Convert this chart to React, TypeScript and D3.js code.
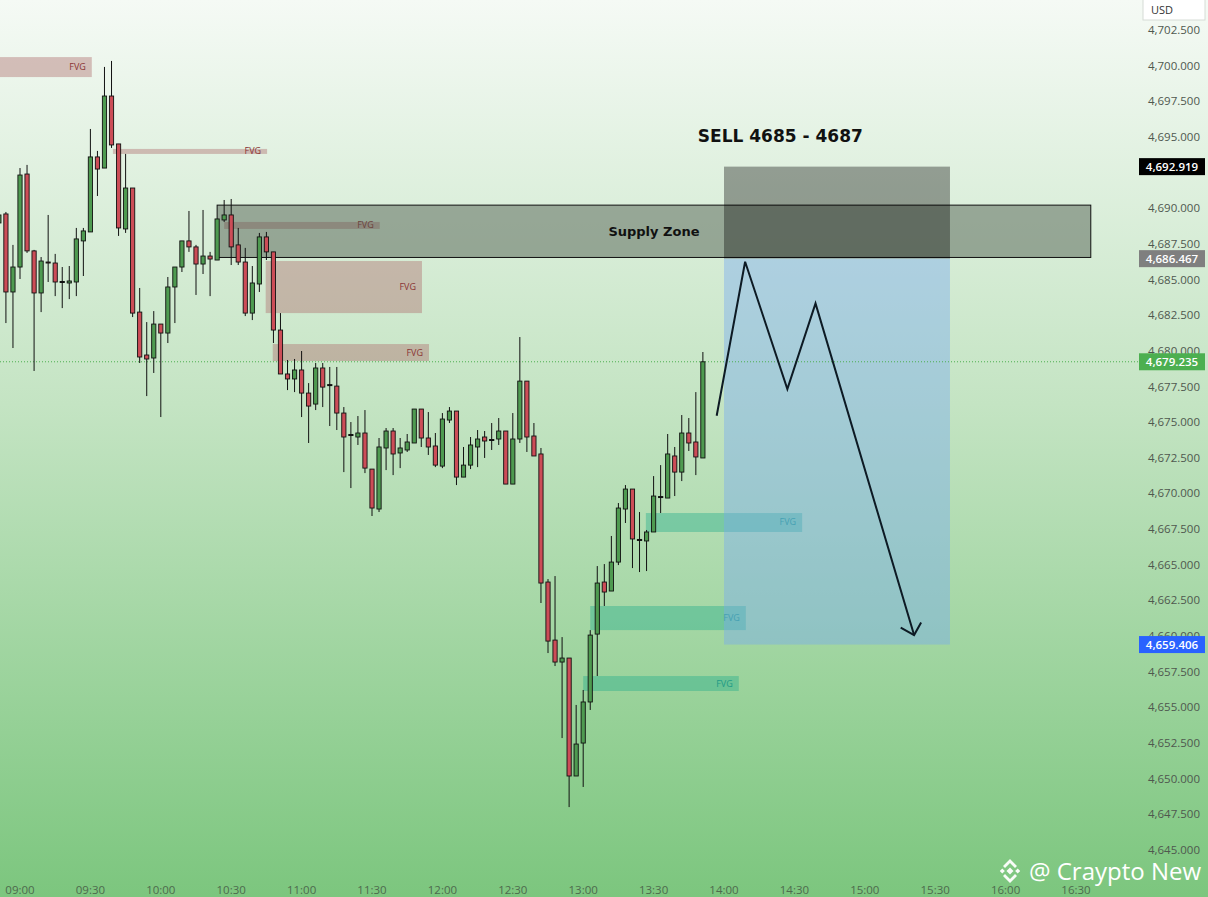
import React from 'react';
import * as d3 from 'd3';

const W = 1208;
const H = 897;

// ---- data ----
const sessionStart = new Date(2024, 0, 2, 9, 0);
const sessionEnd = new Date(2024, 0, 2, 16, 30);
const barMinutes = 3;
const firstBar = -3; // first visible bar index relative to 09:00

const candleOpen = [4688.97, 4689.6, 4684.13, 4685.88, 4692.4, 4687.01, 4684.06, 4686.23, 4686.16, 4684.83, 4684.76, 4684.83, 4687.71, 4688.34, 4693.6, 4692.82, 4697.87, 4694.51, 4688.55, 4691.42, 4682.72, 4679.71, 4679.5, 4681.88, 4681.25, 4684.48, 4685.88, 4687.71, 4687.29, 4686.09, 4686.65, 4686.37, 4689.18, 4689.53, 4687.43, 4686.23, 4682.65, 4684.69, 4687.99, 4686.94, 4681.46, 4678.38, 4678.03, 4678.66, 4677.04, 4676.27, 4678.8, 4677.6, 4677.53, 4675.64, 4674.1, 4673.96, 4674.24, 4671.71, 4668.91, 4673.19, 4674.38, 4672.84, 4673.05, 4673.54, 4675.92, 4673.89, 4673.33, 4671.92, 4675.15, 4675.78, 4671.15, 4671.99, 4673.26, 4673.96, 4673.75, 4673.82, 4674.38, 4670.66, 4673.82, 4677.88, 4674.03, 4672.77, 4663.79, 4659.72, 4658.18, 4658.46, 4650.19, 4652.5, 4655.38, 4660.14, 4663.79, 4663.16, 4665.19, 4668.91, 4670.31, 4666.74, 4666.67, 4667.3, 4669.75, 4669.68, 4672.63, 4671.5, 4674.24, 4673.61, 4672.49];
const candleHigh = [4689.88, 4689.74, 4687.43, 4692.82, 4693.04, 4687.08, 4686.58, 4689.53, 4686.8, 4685.88, 4685.95, 4688.62, 4688.62, 4695.56, 4694.02, 4699.91, 4700.33, 4694.51, 4693.81, 4691.42, 4684.41, 4682.02, 4682.79, 4681.88, 4685.18, 4685.88, 4687.71, 4689.81, 4687.43, 4689.88, 4686.94, 4689.25, 4690.58, 4690.65, 4688.62, 4687.22, 4685.95, 4688.27, 4688.34, 4686.94, 4682.65, 4679.36, 4679.43, 4679.99, 4677.74, 4679.15, 4679.15, 4678.87, 4678.87, 4676.06, 4675.01, 4675.43, 4675.85, 4671.71, 4673.89, 4674.59, 4674.59, 4673.89, 4674.17, 4675.92, 4675.92, 4675.71, 4674.24, 4675.64, 4676.06, 4675.78, 4673.26, 4673.96, 4674.45, 4674.38, 4674.94, 4675.29, 4674.38, 4675.64, 4680.97, 4677.88, 4674.94, 4673.19, 4664.0, 4664.21, 4659.93, 4658.46, 4655.17, 4656.22, 4660.42, 4664.91, 4665.05, 4667.02, 4669.33, 4670.59, 4670.31, 4668.7, 4667.44, 4671.22, 4671.99, 4674.17, 4673.26, 4675.5, 4675.29, 4677.11, 4679.92];
const candleLow = [4688.62, 4681.95, 4680.2, 4685.04, 4686.87, 4678.59, 4682.72, 4684.83, 4683.84, 4683.0, 4683.63, 4683.84, 4685.25, 4688.34, 4690.86, 4692.82, 4694.23, 4688.06, 4688.27, 4682.37, 4679.15, 4676.83, 4678.45, 4675.36, 4680.55, 4681.95, 4685.53, 4686.94, 4683.92, 4685.39, 4683.84, 4686.37, 4689.04, 4686.02, 4686.02, 4682.44, 4682.16, 4684.13, 4686.37, 4680.55, 4678.38, 4677.25, 4677.11, 4675.36, 4673.54, 4675.85, 4676.06, 4674.73, 4674.45, 4671.5, 4670.38, 4673.4, 4671.43, 4668.42, 4668.7, 4671.64, 4671.29, 4671.78, 4672.91, 4673.54, 4673.26, 4672.7, 4671.85, 4671.78, 4674.94, 4670.59, 4671.15, 4671.71, 4671.85, 4672.49, 4673.05, 4673.4, 4670.66, 4670.66, 4673.54, 4672.91, 4672.63, 4662.32, 4658.81, 4657.9, 4652.85, 4648.01, 4650.19, 4649.42, 4654.82, 4657.2, 4662.11, 4663.16, 4664.98, 4667.93, 4664.77, 4664.49, 4664.56, 4667.3, 4668.63, 4669.68, 4669.82, 4670.87, 4672.98, 4671.29, 4672.49];
const candleClose = [4689.53, 4684.13, 4685.88, 4692.33, 4687.01, 4684.06, 4686.3, 4686.16, 4684.83, 4684.8, 4684.9, 4687.85, 4688.41, 4693.6, 4692.75, 4697.87, 4694.44, 4688.62, 4691.42, 4682.65, 4679.57, 4679.43, 4681.88, 4681.25, 4684.48, 4685.88, 4687.71, 4687.29, 4686.09, 4686.65, 4686.44, 4689.25, 4689.53, 4687.29, 4686.23, 4682.65, 4684.76, 4687.99, 4686.94, 4681.46, 4678.38, 4678.03, 4678.66, 4677.04, 4676.13, 4678.8, 4677.46, 4677.56, 4675.64, 4673.96, 4674.06, 4674.24, 4671.78, 4668.98, 4673.26, 4674.38, 4672.77, 4673.19, 4673.61, 4675.92, 4673.89, 4673.26, 4671.99, 4675.22, 4675.78, 4671.15, 4671.99, 4673.4, 4673.82, 4673.68, 4673.72, 4674.38, 4670.66, 4673.82, 4677.88, 4673.96, 4672.63, 4663.72, 4659.65, 4658.18, 4658.46, 4650.19, 4652.43, 4655.38, 4660.07, 4663.72, 4663.09, 4665.19, 4668.98, 4670.31, 4666.81, 4666.7, 4667.3, 4669.82, 4669.72, 4672.77, 4671.5, 4674.24, 4673.54, 4672.56, 4679.235];

const timeTickLabels = ['09:00', '09:30', '10:00', '10:30', '11:00', '11:30', '12:00', '12:30', '13:00', '13:30', '14:00', '14:30', '15:00', '15:30', '16:00', '16:30'];
const priceTicks = d3.range(4645, 4702.5 + 0.001, 2.5);

// FVG zones
const fvgStart = [-4, 13.2, 29.0, 34.9, 35.9, 88.9, 81.0, 80.0];
const fvgEnd = [10.2, 35.1, 51.1, 57.1, 58.1, 111.1, 103.1, 102.1];
const fvgTop = [4700.6, 4694.16, 4689.04, 4686.3, 4680.48, 4668.63, 4662.11, 4657.2];
const fvgBottom = [4699.2, 4693.81, 4688.55, 4682.65, 4679.29, 4667.3, 4660.42, 4656.15];
const fvgKind = ['bear', 'bear', 'bear', 'bear', 'bear', 'bull', 'bull', 'bull'];

const supplyZone = { startBar: 28.0, endBar: 152.1, top: 4690.22, bottom: 4686.55 };
const shortPosition = { startBar: 100.0, endBar: 132.1, stop: 4692.919, entry: 4686.467, target: 4659.406 };
const lastPrice = 4679.235;

const pathBars = [98.96, 103.0, 109.0, 113.0, 127.0];
const pathPrices = [4675.45, 4686.25, 4677.32, 4683.33, 4660.07];
const arrowBars = [125.1, 127.0, 128.0];
const arrowPrices = [4660.59, 4660.07, 4660.96];

const sellText = { bar: 108, price: 4695.06, text: 'SELL 4685 - 4687' };

// ---- scales ----
const x = d3.scaleTime().domain([sessionStart, sessionEnd]).range([20, 1076]);
const y = d3.scaleLinear().domain([4645, 4702.5]).range([850, 30]);
const barTime = (b: number) => new Date(sessionStart.getTime() + b * barMinutes * 60000);
const bx = (b: number) => x(barTime(b));
const fmt = d3.format(',.3f');

const AXIS_FONT = '"Open Sans", "Noto Sans", sans-serif';

export default function App() {
  const candles = candleOpen.map((o, k) => ({
    bar: firstBar + k,
    o,
    h: candleHigh[k],
    l: candleLow[k],
    c: candleClose[k],
  }));
  const bodyW = 4.2;
  const line = d3.line<number>().x((_, i) => bx(pathBars[i])).y((p) => y(p));
  const arrowLine = d3.line<number>().x((_, i) => bx(arrowBars[i])).y((p) => y(p));

  const priceBadges = [
    { v: shortPosition.stop, bg: '#000000' },
    { v: shortPosition.entry, bg: '#7f7f7f' },
    { v: lastPrice, bg: '#4caf50' },
    { v: shortPosition.target, bg: '#2962ff' },
  ];
  const visibleTicks = priceTicks.filter((v) => priceBadges.every((b) => Math.abs(y(v) - y(b.v)) > 6));

  return (
    <div style={{ position: 'absolute', left: 0, top: 0, width: W, height: H, overflow: 'hidden' }}>
      <svg width={W} height={H} style={{ display: 'block' }}>
        <defs>
          <linearGradient id="bg" x1="0" y1="0" x2="0" y2="1">
            <stop offset="0" stopColor="#f5faf5" />
            <stop offset="0.45" stopColor="#c4e4c3" />
            <stop offset="1" stopColor="#7cc67e" />
          </linearGradient>
        </defs>
        <rect x={0} y={0} width={W} height={H} fill="url(#bg)" />

        {/* FVG zones */}
        {fvgStart.map((s, i) => {
          const x0 = bx(s);
          const x1 = bx(fvgEnd[i]);
          const y0 = y(fvgTop[i]);
          const y1 = y(fvgBottom[i]);
          const bull = fvgKind[i] === 'bull';
          return (
            <g key={'fvg' + i}>
              <rect x={x0} y={y0} width={x1 - x0} height={y1 - y0}
                fill={bull ? 'rgba(40,175,140,0.42)' : 'rgba(175,110,110,0.42)'} />
              <text x={x1 - 6} y={(y0 + y1) / 2 + 3} textAnchor="end" fontSize={9}
                fontFamily={AXIS_FONT} fill={bull ? '#1f9a86' : '#8a3434'}>FVG</text>
            </g>
          );
        })}

        {/* Supply zone */}
        <rect x={bx(supplyZone.startBar)} y={y(supplyZone.top)}
          width={bx(supplyZone.endBar) - bx(supplyZone.startBar)}
          height={y(supplyZone.bottom) - y(supplyZone.top)}
          fill="rgba(70,82,70,0.46)" stroke="#111" strokeWidth={1} />

        {/* Short position */}
        <rect x={bx(shortPosition.startBar)} y={y(shortPosition.stop)}
          width={bx(shortPosition.endBar) - bx(shortPosition.startBar)}
          height={y(shortPosition.entry) - y(shortPosition.stop)}
          fill="rgba(0,0,0,0.35)" />
        <rect x={bx(shortPosition.startBar)} y={y(shortPosition.entry)}
          width={bx(shortPosition.endBar) - bx(shortPosition.startBar)}
          height={y(shortPosition.target) - y(shortPosition.entry)}
          fill="rgba(120,170,240,0.42)" />

        <text x={(bx(supplyZone.startBar) + bx(supplyZone.endBar)) / 2}
          y={(y(supplyZone.top) + y(supplyZone.bottom)) / 2 + 5}
          textAnchor="middle" fontSize={13} fontWeight="bold"
          fontFamily='"DejaVu Sans", sans-serif' fill="#111">Supply Zone</text>

        {/* last price dotted line */}
        <line x1={0} x2={1140} y1={y(lastPrice)} y2={y(lastPrice)}
          stroke="#4caf50" strokeWidth={1} strokeDasharray="1 2" />

        {/* candles */}
        {candles.map((d) => {
          const cx = bx(d.bar);
          const up = d.c >= d.o;
          const top = y(Math.max(d.o, d.c));
          const bot = y(Math.min(d.o, d.c));
          const doji = Math.abs(d.o - d.c) < 0.06;
          return (
            <g key={'c' + d.bar}>
              <line x1={cx} x2={cx} y1={y(d.h)} y2={y(d.l)} stroke="#111" strokeWidth={1} />
              {doji ? (
                <rect x={cx - bodyW / 2 - 0.5} y={top - 1} width={bodyW + 1} height={2} fill="#111" />
              ) : (
                <rect x={cx - bodyW / 2} y={top} width={bodyW} height={Math.max(1, bot - top)}
                  fill={up ? '#4e9a50' : '#cc4d57'} stroke="#111" strokeWidth={0.9} />
              )}
            </g>
          );
        })}

        {/* price path */}
        <path d={line(pathPrices) || ''} fill="none" stroke="#0d1a24" strokeWidth={2} strokeLinejoin="miter" />
        <path d={arrowLine(arrowPrices) || ''} fill="none" stroke="#0d1a24" strokeWidth={2} />

        <text x={bx(sellText.bar)} y={y(sellText.price) + 6} textAnchor="middle"
          fontSize={17} fontWeight="bold" fontFamily='"DejaVu Sans", sans-serif' fill="#111">{sellText.text}</text>

        {/* price axis */}
        {visibleTicks.map((v) => (
          <text key={'p' + v} x={1200} y={y(v) + 4} textAnchor="end" fontSize={11.5}
            fontFamily={AXIS_FONT} fill="#4f584f">{fmt(v)}</text>
        ))}
        {priceBadges.map((b) => (
          <g key={'b' + b.v}>
            <rect x={1139} y={y(b.v) - 8.5} width={66} height={17} fill={b.bg} />
            <text x={1172} y={y(b.v) + 4} textAnchor="middle" fontSize={11.5} fontWeight={600}
              fontFamily={AXIS_FONT} fill="#fff">{fmt(b.v)}</text>
          </g>
        ))}
        <rect x={1143} y={-1} width={62} height={21} fill="#ffffff" stroke="#d6dcd6" />
        <text x={1151} y={14} fontSize={11} fontFamily={AXIS_FONT} fill="#333">USD</text>

        {/* time axis */}
        {timeTickLabels.map((t, i) => (
          <text key={'t' + t} x={x(new Date(sessionStart.getTime() + i * 30 * 60000))} y={894}
            textAnchor="middle" fontSize={11.5} fontFamily={AXIS_FONT} fill="#4d6a4d">{t}</text>
        ))}

        {/* watermark */}
        <g transform="translate(1010,871)" fill="#ffffff" opacity={0.95}>
          <rect x={-2.5} y={-2.5} width={5} height={5} transform="rotate(45)" />
          <rect x={-9.5} y={-1.8} width={3.6} height={3.6} transform="rotate(45 -7.7 0)" />
          <rect x={5.9} y={-1.8} width={3.6} height={3.6} transform="rotate(45 7.7 0)" />
          <path d="M0,-12 L7,-5 L5,-3 L0,-8 L-5,-3 L-7,-5 Z" />
          <path d="M0,12 L7,5 L5,3 L0,8 L-5,3 L-7,5 Z" />
        </g>
        <text x={1029} y={880} fontSize={24} fontFamily='"Open Sans", sans-serif' fill="#ffffff">@ Craypto New</text>
      </svg>
    </div>
  );
}
